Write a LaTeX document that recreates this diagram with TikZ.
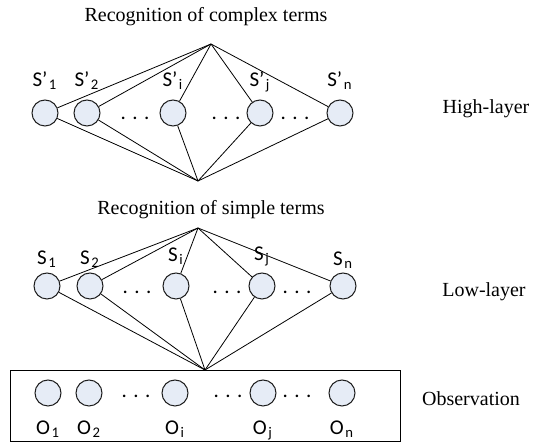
\documentclass[tikz,border=0pt]{standalone}
\usepackage{fontspec}
\setmainfont{Liberation Serif}
\newfontfamily\lblfont{Carlito}
\usepackage{tikz}
\usetikzlibrary{positioning}
\definecolor{stateFill}{RGB}{230,236,246}
\definecolor{stateLine}{RGB}{30,30,30}
\tikzset{
    state/.style={
        circle,
        draw=stateLine,
        fill=stateFill,
        line width=0.5pt,
        inner sep=0pt,
        minimum size=13pt
    }
}
\tikzset{
    lbl/.style={font=\lblfont\fontsize{10.5}{12}\selectfont, inner sep=0pt, anchor=base}
}
\tikzset{
    layerText/.style={font=\fontsize{10}{12}\selectfont, inner sep=0pt, anchor=base}
}
\tikzset{
    link/.style={line width=0.4pt}
}
\newcommand{\spacedDots}{.\kern3.2pt.\kern3.2pt.}
\newcommand{\drawDots}[2]{\node[lbl] (#2) at #1 {\spacedDots}}
\newcommand{\sub}[1]{\kern0.8pt\textsubscript{#1}}

\begin{document}
\begin{tikzpicture}[x=0.5pt, y=-0.5pt]

    \useasboundingbox (0,0) rectangle (538,443);

    % high layer
    \node[layerText] (titleHigh) at (206,22) {Recognition of complex terms};
    \coordinate (apexHigh) at (211,44);
    \coordinate (apexHighLow) at (198,181);

    \node[state] (h1) at (45,113) {};
    \node[state] (h2) at (87,113) {};
    \node[state] (hi) at (173,113) {};
    \node[state] (hj) at (260,113) {};
    \node[state] (hn) at (340,113) {};

    \node[lbl, above=6.5pt of h1.north, anchor=base] (th1) {S’\sub{1}};
    \node[lbl, above=6.5pt of h2.north, anchor=base] (th2) {S’\sub{2}};
    \node[lbl, above=6.5pt of hi.north, anchor=base] (thi) {S’\sub{i}};
    \node[lbl, above=6.5pt of hj.north, anchor=base] (thj) {S’\sub{j}};
    \node[lbl, above=6.5pt of hn.north, anchor=base] (thn) {S’\sub{n}};

    \drawDots{(135,120)}{dh1};
    \drawDots{(226,120)}{dh2};
    \drawDots{(295,120)}{dh3};

    \draw[link] (apexHigh) -- (h1);
    \draw[link] (apexHigh) -- (h2);
    \draw[link] (apexHigh) -- (hi);
    \draw[link] (apexHigh) -- (hj);
    \draw[link] (apexHigh) -- (hn);

    \draw[link] (h1) -- (apexHighLow);
    \draw[link] (h2) -- (apexHighLow);
    \draw[link] (hi) -- (apexHighLow);
    \draw[link] (hj) -- (apexHighLow);
    \draw[link] (hn) -- (apexHighLow);

    \node[layerText] (nameHigh) at (486,114) {High-layer};

    % low layer
    \node[layerText] (titleLow) at (211,215) {Recognition of simple terms};
    \coordinate (apexLow) at (198,228);

    \node[state] (l1) at (47,286) {};
    \node[state] (l2) at (90,286) {};
    \node[state] (li) at (176,286) {};
    \node[state] (lj) at (262,286) {};
    \node[state] (ln) at (343,286) {};

    \node[lbl, above=4pt of l1.north, anchor=base] (tl1) {S\sub{1}};
    \node[lbl, above=4pt of l2.north, anchor=base] (tl2) {S\sub{2}};
    \node[lbl, above=5.5pt of li.north, anchor=base] (tli) {S\sub{i}};
    \node[lbl, above=6pt of lj.north, anchor=base] (tlj) {S\sub{j}};
    \node[lbl, above=3.5pt of ln.north, anchor=base] (tln) {S\sub{n}};

    \drawDots{(137,294)}{dl1};
    \drawDots{(227,294)}{dl2};
    \drawDots{(297,294)}{dl3};

    \draw[link] (apexLow) -- (l1);
    \draw[link] (apexLow) -- (l2);
    \draw[link] (apexLow) -- (li);
    \draw[link] (apexLow) -- (lj);
    \draw[link] (apexLow) -- (ln);

    \node[layerText] (nameLow) at (484,297) {Low-layer};

    % observation
    \node[draw, line width=0.5pt, inner sep=0pt, minimum width=195pt, minimum height=35.5pt, anchor=north west] (obsBox) at (10,370) {};
    \coordinate (apexObs) at (205,370);

    \draw[link] (l1) -- (apexObs);
    \draw[link] (l2) -- (apexObs);
    \draw[link] (li) -- (apexObs);
    \draw[link] (lj) -- (apexObs);
    \draw[link] (ln) -- (apexObs);

    \node[state] (o1) at (48,393) {};
    \node[state] (o2) at (89,393) {};
    \node[state] (oi) at (175,393) {};
    \node[state] (oj) at (263,393) {};
    \node[state] (on) at (342,393) {};

    \node[lbl, below=14pt of o1.south, anchor=base] (to1) {O\sub{1}};
    \node[lbl, below=14pt of o2.south, anchor=base] (to2) {O\sub{2}};
    \node[lbl, below=14pt of oi.south, anchor=base] (toi) {O\sub{i}};
    \node[lbl, below=14pt of oj.south, anchor=base] (toj) {O\sub{j}};
    \node[lbl, below=14pt of on.south, anchor=base] (ton) {O\sub{n}};

    \drawDots{(136,398)}{do1};
    \drawDots{(228,398)}{do2};
    \drawDots{(297,398)}{do3};

    \node[layerText] (nameObs) at (471,406) {Observation};

\end{tikzpicture}
\end{document}
